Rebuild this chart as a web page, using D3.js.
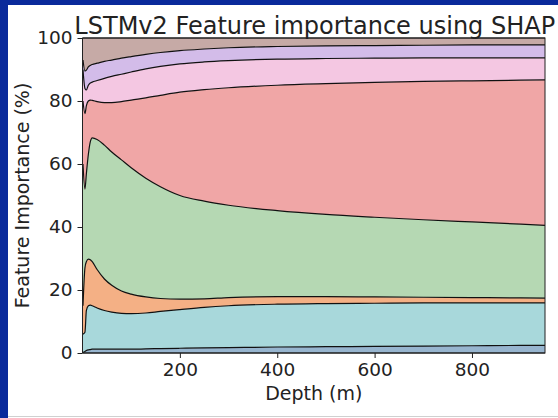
<!DOCTYPE html>
<html><head><meta charset="utf-8">
<script src="https://cdn.jsdelivr.net/npm/d3@7"></script>
<style>body{margin:0;background:#fff}svg{display:block}text{font-family:"DejaVu Sans",sans-serif;fill:#222}</style>
</head><body><svg id="c" width="558" height="418"></svg>
<script>
// ---- data ----
const depths = [1, 5, 8, 12, 16, 20, 30, 45, 60, 80, 100, 130, 160, 200, 250, 300, 400, 500, 600, 700, 800, 900, 950];
const layerNames = ["f1","f2","f3","f4","f5","f6","f7","f8"];
const f1 = [0.2, 0.5, 0.8, 1.0, 1.1, 1.2, 1.2, 1.2, 1.2, 1.2, 1.2, 1.3, 1.4, 1.5, 1.6, 1.7, 1.9, 2.0, 2.1, 2.2, 2.3, 2.4, 2.4];
const f2 = [5.8, 6.1, 12.7, 14.0, 14.1, 13.8, 13.1, 12.3, 11.8, 11.4, 11.3, 11.4, 11.8, 12.3, 12.9, 13.3, 13.6, 13.7, 13.7, 13.7, 13.6, 13.5, 13.5];
const f3 = [9.0, 20.4, 15.5, 14.8, 14.4, 14.0, 12.2, 10.0, 8.5, 7.1, 6.2, 5.1, 4.1, 3.3, 2.7, 2.6, 2.4, 2.2, 2.0, 1.8, 1.7, 1.6, 1.5];
const f4 = [45, 25, 28, 33.2, 37.4, 39.3, 41.3, 42.5, 42.3, 41.6, 40.1, 37.7, 35.5, 32.9, 31.0, 29.3, 27.3, 26.1, 25.3, 24.6, 24.0, 23.4, 23.1];
const f5 = [20, 24, 21.5, 17, 13.3, 11.9, 12.0, 13.5, 15.7, 18.5, 21.5, 25.5, 29.0, 32.8, 35.4, 37.3, 39.8, 41.5, 42.8, 43.9, 44.8, 45.7, 46.2];
const f6 = [10, 8, 5, 5, 5.4, 5.8, 6.7, 7.7, 8.3, 8.7, 8.9, 9.2, 9.2, 9, 8.8, 8.6, 8.3, 8, 7.7, 7.5, 7.3, 7.1, 7.0];
const f7 = [3, 5.5, 6.3, 5.8, 5.6, 5.6, 5.5, 5.4, 5.2, 5.1, 4.9, 4.6, 4.4, 4.2, 4.1, 4.1, 4.0, 4.0, 4.0, 4.0, 4.1, 4.1, 4.1];
const f8 = [7, 10.5, 10.2, 9.2, 8.7, 8.4, 8, 7.4, 7, 6.4, 5.9, 5.2, 4.6, 4, 3.5, 3.1, 2.7, 2.5, 2.4, 2.3, 2.2, 2.2, 2.2];
const xTicks = [200, 400, 600, 800];
const yTicks = [0, 20, 40, 60, 80, 100];
const colors = ["#97b5cf","#a8d8db","#f4b085","#b5d8b3","#f0a6a6","#f4c7e2","#d3bce9","#c6aaa6"];

// ---- drawing ----
const svg = d3.select("#c");
svg.append("rect").attr("width",558).attr("height",418).attr("fill","#0a2a9b");
svg.append("rect").attr("x",8).attr("y",5).attr("width",550).attr("height",413).attr("fill","#fff");
svg.append("line").attr("x1",8).attr("x2",558).attr("y1",416.5).attr("y2",416.5).attr("stroke","#d0d0d0");

const L = 82.5, R = 545, T = 38, B = 353;
const x = d3.scaleLinear().domain([0, 950]).range([L, R]);
const y = d3.scaleLinear().domain([0, 100]).range([B, T]);

const series = [f1,f2,f3,f4,f5,f6,f7,f8];
const rows = depths.map((d,i) => { const o = {depth:d}; layerNames.forEach((n,k)=>o[n]=series[k][i]); return o; });
const stacked = d3.stack().keys(layerNames)(rows);

const area = d3.area().x(d=>x(d.data.depth)).y0(d=>y(d[0])).y1(d=>y(d[1])).curve(d3.curveMonotoneX);
const line = d3.line().x(d=>x(d.data.depth)).y(d=>y(d[1])).curve(d3.curveMonotoneX);

const g = svg.append("g");
g.selectAll("path.a").data(stacked).join("path").attr("class","a")
  .attr("d",area).attr("fill",(d,i)=>colors[i]);
g.append("path").datum(stacked[0]).attr("d", d3.line().x(d=>x(d.data.depth)).y(d=>y(d[0]))).attr("fill","none").attr("stroke","#111").attr("stroke-width",1.2);
g.selectAll("path.l").data(stacked).join("path").attr("class","l")
  .attr("d",line).attr("fill","none").attr("stroke","#111").attr("stroke-width",1.2);

// axes
const xa = svg.append("g").attr("transform",`translate(0,${B})`)
  .call(d3.axisBottom(x).tickValues(xTicks).tickSize(5).tickPadding(5).tickFormat(d3.format("d")));
const ya = svg.append("g").attr("transform",`translate(${L},0)`)
  .call(d3.axisLeft(y).tickValues(yTicks).tickSize(5).tickPadding(5).tickFormat(d3.format("d")));
[xa,ya].forEach(a=>{a.select(".domain").remove();a.selectAll("line").attr("stroke","#222");a.selectAll("text").style("font-size","18.5px").attr("fill","#222").style("font-family","DejaVu Sans");});
svg.append("rect").attr("x",L).attr("y",T).attr("width",R-L).attr("height",B-T).attr("fill","none").attr("stroke","#222").attr("stroke-width",1);

svg.append("text").attr("x",(L+R)/2 + 1).attr("y",34).attr("text-anchor","middle").style("font-size","24px").text("LSTMv2 Feature importance using SHAP");
svg.append("text").attr("x",(L+R)/2).attr("y",400).attr("text-anchor","middle").style("font-size","19px").text("Depth (m)");
svg.append("text").attr("transform",`translate(29,${(T+B)/2}) rotate(-90)`).attr("text-anchor","middle").style("font-size","19px").text("Feature Importance (%)");
</script></body></html>
